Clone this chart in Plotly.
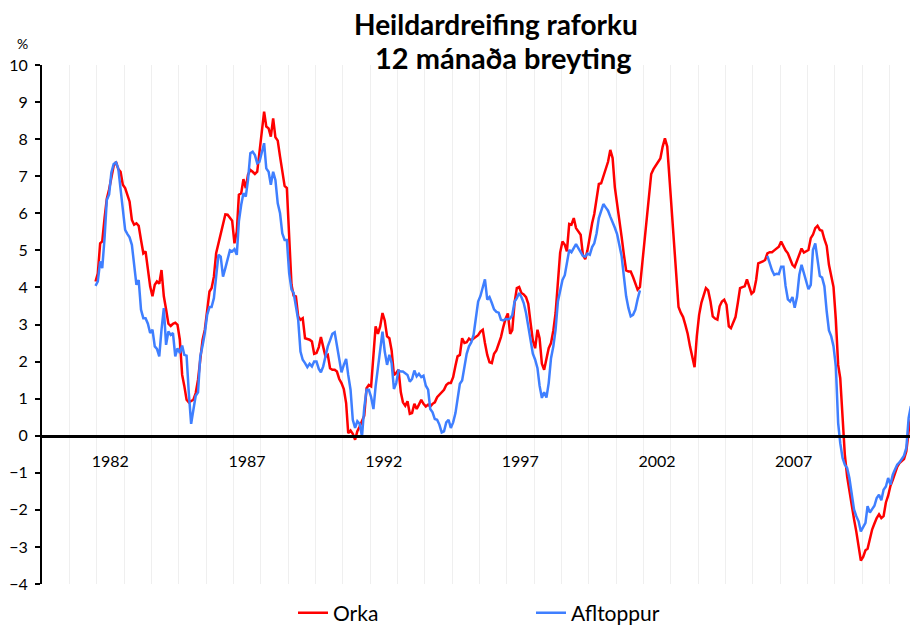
import pandas as pd
import plotly.graph_objects as go

# Monthly series, first value = December 1981
start_month = "1981-12-01"

orka = [
    4.16, 4.38, 5.19, 5.24, 5.87, 6.39, 6.65, 7.01, 7.28, 7.39,
    7.19, 7.12, 6.77, 6.68, 6.50, 6.32, 5.82, 5.69, 5.73, 5.66,
    5.28, 4.92, 4.97, 4.43, 4.03, 3.76, 4.07, 4.16, 4.10, 4.47,
    3.76, 3.41, 3.02, 2.96, 3.02, 3.05, 2.99, 2.59, 1.64, 1.35,
    0.97, 0.90, 0.93, 0.97, 1.15, 1.51, 2.05, 2.59, 2.86, 3.44,
    3.89, 3.98, 4.29, 4.92, 5.19, 5.46, 5.78, 5.97, 5.96, 5.87,
    5.80, 5.19, 5.51, 6.50, 6.54, 6.92, 6.68, 7.04, 7.17, 7.12,
    7.06, 7.12, 7.71, 8.29, 8.74, 8.34, 8.29, 8.07, 8.56, 8.05,
    7.96, 7.53, 7.08, 6.74, 6.68, 5.37, 4.07, 3.78, 3.76, 3.22,
    3.13, 3.17, 2.63, 2.61, 2.59, 2.54, 2.21, 2.23, 2.39, 2.66,
    2.36, 2.14, 2.18, 1.82, 1.78, 1.78, 1.73, 1.53, 1.42, 1.26,
    0.88, 0.07, 0.14, 0.05, -0.11, 0.12, 0.25, 0.41, 0.54, 1.28,
    1.37, 1.33, 2.14, 2.95, 2.75, 2.95, 3.31, 3.11, 2.68, 2.63,
    2.30, 1.64, 1.69, 1.78, 1.17, 0.90, 0.81, 0.93, 0.59, 0.61,
    0.86, 0.72, 0.84, 0.97, 0.86, 0.79, 0.84, 0.79, 0.86, 0.90,
    1.04, 1.10, 1.15, 1.24, 1.37, 1.42, 1.42, 1.58, 1.89, 2.14,
    2.18, 2.63, 2.50, 2.52, 2.62, 2.57, 2.62, 2.66, 2.71, 2.81,
    2.86, 2.50, 2.18, 1.98, 1.96, 2.21, 2.30, 2.48, 2.66, 2.93,
    3.15, 3.30, 2.75, 2.85,
    3.59, 3.98, 4.01, 3.85, 3.81, 3.74, 3.56, 3.04, 2.57, 2.36,
    2.86, 2.63, 1.94, 1.78, 2.09, 2.36, 2.50, 2.84, 3.31, 4.12,
    4.94, 5.24, 5.15, 4.97, 5.71, 5.69, 5.87, 5.60, 5.51, 5.42,
    4.88, 4.76, 5.00, 5.42, 5.73, 5.98, 6.34, 6.79, 6.81, 6.99,
    7.24, 7.39, 7.71, 7.49, 6.70, 6.27, 5.71, 5.37, 4.88, 4.46,
    4.43, 4.43, 4.28, 4.10, 3.94, 4.01, 4.65, 5.24, 5.84, 6.36,
    7.06, 7.19, 7.28, 7.39, 7.48, 7.80, 8.02, 7.80, 6.95, 6.05,
    5.10, 4.16, 3.47, 3.32, 3.20, 2.99, 2.75, 2.41, 2.10, 1.85,
    2.68, 3.26, 3.59, 3.76, 3.98, 3.92, 3.62, 3.22, 3.16, 3.13,
    3.49, 3.62, 3.67, 3.53, 2.95, 2.90, 3.08, 3.20, 3.58, 3.98,
    4.01, 4.03, 4.22, 4.01, 3.83, 3.89, 4.20, 4.65, 4.67, 4.70,
    4.74, 4.92, 4.95, 4.95, 5.00, 5.05, 5.10, 5.24, 5.10, 5.00,
    4.92, 4.74, 4.61, 4.55, 4.72, 4.88, 5.05, 4.94, 4.97, 5.01,
    5.33, 5.42, 5.60, 5.66, 5.55, 5.53, 5.30, 5.12, 4.61, 4.25,
    4.01, 3.13, 1.91, 1.55, 0.43, -0.51, -1.10, -1.50, -1.95, -2.25,
    -2.58, -3.00, -3.37, -3.27, -3.09, -3.05, -2.79, -2.53, -2.37, -2.22,
    -2.12, -2.22, -2.17, -1.80, -1.62, -1.35, -1.19, -1.01, -0.84, -0.74,
    -0.69, -0.63, -0.42, 0.12, 0.45,
]

afltoppur = [
    4.04, 4.16, 4.70, 4.52, 5.33, 6.36, 6.51, 7.10, 7.33, 7.37,
    7.21, 6.68, 6.18, 5.55, 5.44, 5.35, 5.15, 4.65, 4.07, 4.20,
    3.40, 3.17, 3.17, 3.02, 2.77, 2.86, 2.41, 2.34, 2.14, 2.86,
    3.44, 2.45, 2.81, 2.72, 2.77, 2.14, 2.36, 2.23, 2.43, 2.18,
    2.16, 1.15, 0.32, 0.70, 1.08, 1.17, 2.14, 2.43, 2.77, 3.26,
    3.47, 3.47, 3.71, 4.29, 4.88, 4.83, 4.29, 4.52, 4.76, 5.00,
    4.97, 5.03, 4.88, 5.78, 6.23, 6.54, 6.45, 6.90, 7.62, 7.66,
    7.57, 7.35, 7.39, 7.62, 7.89, 7.21, 7.12, 6.77, 7.12, 6.90,
    6.27, 6.00, 5.46, 5.28, 5.28, 4.38, 3.94, 3.86, 3.44, 3.13,
    2.27, 2.05, 1.96, 1.85, 1.94, 1.87, 2.00, 2.00, 1.80, 1.71,
    1.87, 2.18, 2.41, 2.57, 2.75, 2.79, 2.41, 2.05, 1.71, 1.91,
    2.07, 1.64, 1.24, 0.43, 0.21, 0.39, 0.32, -0.02, 0.75, 1.24,
    1.24, 1.04, 0.72, 1.33, 1.85, 2.23, 2.81, 2.27, 1.91, 2.18,
    1.96, 1.26, 1.42, 1.76, 1.73, 1.73, 1.69, 1.64, 1.46, 1.53,
    1.76, 1.60, 1.67, 1.58, 1.62, 1.35, 1.24, 0.72, 0.63, 0.45,
    0.43, 0.30, 0.09, 0.12, 0.36, 0.43, 0.21, 0.36, 0.61, 1.02,
    1.40, 1.49, 1.91, 2.21, 2.41, 2.52, 2.72, 3.13, 3.62, 3.77,
    4.03, 4.22, 3.67, 3.74, 3.58, 3.41, 3.34, 3.32, 3.13, 3.11,
    3.15, 3.14, 3.16, 3.25,
    3.62, 3.71, 3.85, 3.74, 3.58, 3.31, 2.95, 2.61, 2.21, 2.05,
    1.82, 1.35, 1.02, 1.17, 1.03, 1.42, 2.09, 2.41, 2.86, 3.62,
    3.95, 4.20, 4.33, 4.67, 5.01, 4.95, 5.07, 5.17, 5.06, 4.96,
    4.85, 4.83, 4.91, 4.88, 5.09, 5.19, 5.46, 5.87, 6.05, 6.25,
    6.16, 6.07, 5.91, 5.77, 5.61, 5.43, 5.17, 4.85, 4.29, 3.76,
    3.44, 3.22, 3.26, 3.40, 3.68, 3.92,
] + [None] * 55 + [
    4.85, 4.65, 4.46, 4.34, 4.37, 4.36, 4.56, 4.56, 4.04, 3.68,
    3.62, 3.74, 3.45, 3.74, 4.34, 4.61, 4.38, 4.16, 3.95, 4.07,
    5.01, 5.19, 4.79, 4.31, 4.27, 4.03, 3.35, 2.84, 2.68, 2.41,
    1.87, 0.34, -0.20, -0.60, -0.78, -0.87, -1.14, -1.64, -1.99, -2.17,
    -2.31, -2.58, -2.46, -2.35, -1.90, -2.07, -1.98, -1.89, -1.68, -1.59,
    -1.74, -1.46, -1.37, -1.14, -1.32, -1.05, -0.92, -0.78, -0.72, -0.61,
    -0.54, -0.33, 0.48, 0.80,
]

label_years = [1982, 1987, 1992, 1997, 2002, 2007]
y_ticks = list(range(-4, 11))
title_lines = ["Heildardreifing raforku", "12 mánaða breyting"]

months = pd.date_range(start_month, periods=len(orka), freq="MS") + pd.Timedelta(days=15)

FONT = "Lato"
W, H = 910, 627
L, R, T, B = 42, 0, 65, 43
PW, PH = W - L - R, H - T - B


def px_x(px):
    return (px - L) / PW


def px_y(py):
    return (H - B - py) / PH


fig = go.Figure()
fig.add_trace(go.Scatter(x=months, y=orka, mode="lines", name="Orka",
                         line=dict(color="#ff0000", width=2.5)))
fig.add_trace(go.Scatter(x=months, y=afltoppur, mode="lines", name="Afltoppur",
                         line=dict(color="#3f7fff", width=2.5)))

annotations = [
    dict(text="%", x=px_x(22), y=px_y(43), xanchor="center", yanchor="middle",
         font=dict(size=14, family=FONT, color="black")),
    dict(text=f"<b>{title_lines[0]}</b>", x=px_x(496), y=px_y(24),
         xanchor="center", yanchor="middle",
         font=dict(size=28, family=FONT, color="black")),
    dict(text=f"<b>{title_lines[1]}</b>", x=px_x(503), y=px_y(57),
         xanchor="center", yanchor="middle",
         font=dict(size=29, family=FONT, color="black")),
]
for a in annotations:
    a.update(xref="paper", yref="paper", showarrow=False)

fig.update_layout(
    width=W, height=H,
    margin=dict(l=L, r=R, t=T, b=B, autoexpand=False),
    paper_bgcolor="white", plot_bgcolor="white",
    font=dict(family=FONT, color="black"),
    showlegend=True,
    legend=dict(orientation="h", xref="container", yref="container",
                x=293 / W, xanchor="left", y=14 / H, yanchor="middle",
                entrywidth=193, entrywidthmode="pixels",
                font=dict(size=21, family=FONT, color="black"),
                bgcolor="rgba(0,0,0,0)"),
    xaxis=dict(
        type="date",
        range=["1980-01-01", "2011-10-04"],
        tickvals=[pd.Timestamp(f"{y}-07-02") for y in label_years],
        ticktext=[str(y) for y in label_years],
        ticks="", showgrid=False, zeroline=False,
        showline=True, linecolor="black", linewidth=2.5,
        anchor="free", position=4 / 14,
        ticklabelstandoff=10,
        tickfont=dict(size=16, family=FONT, color="black"),
        minor=dict(tick0="1980-01-01", dtick="M12", showgrid=True,
                   gridcolor="#efefef", gridwidth=1, ticks=""),
    ),
    yaxis=dict(
        range=[-4, 10], tickvals=y_ticks,
        showgrid=False, zeroline=False,
        showline=True, linecolor="black", linewidth=2,
        ticks="outside", ticklen=5, tickwidth=2, tickcolor="black",
        ticklabelstandoff=4,
        tickfont=dict(size=16, family=FONT, color="black"),
    ),
    annotations=annotations,
)

fig.write_html("out.html",
               config={"displayModeBar": False},
               post_script="document.body.style.margin='0';document.body.style.padding='0';")
